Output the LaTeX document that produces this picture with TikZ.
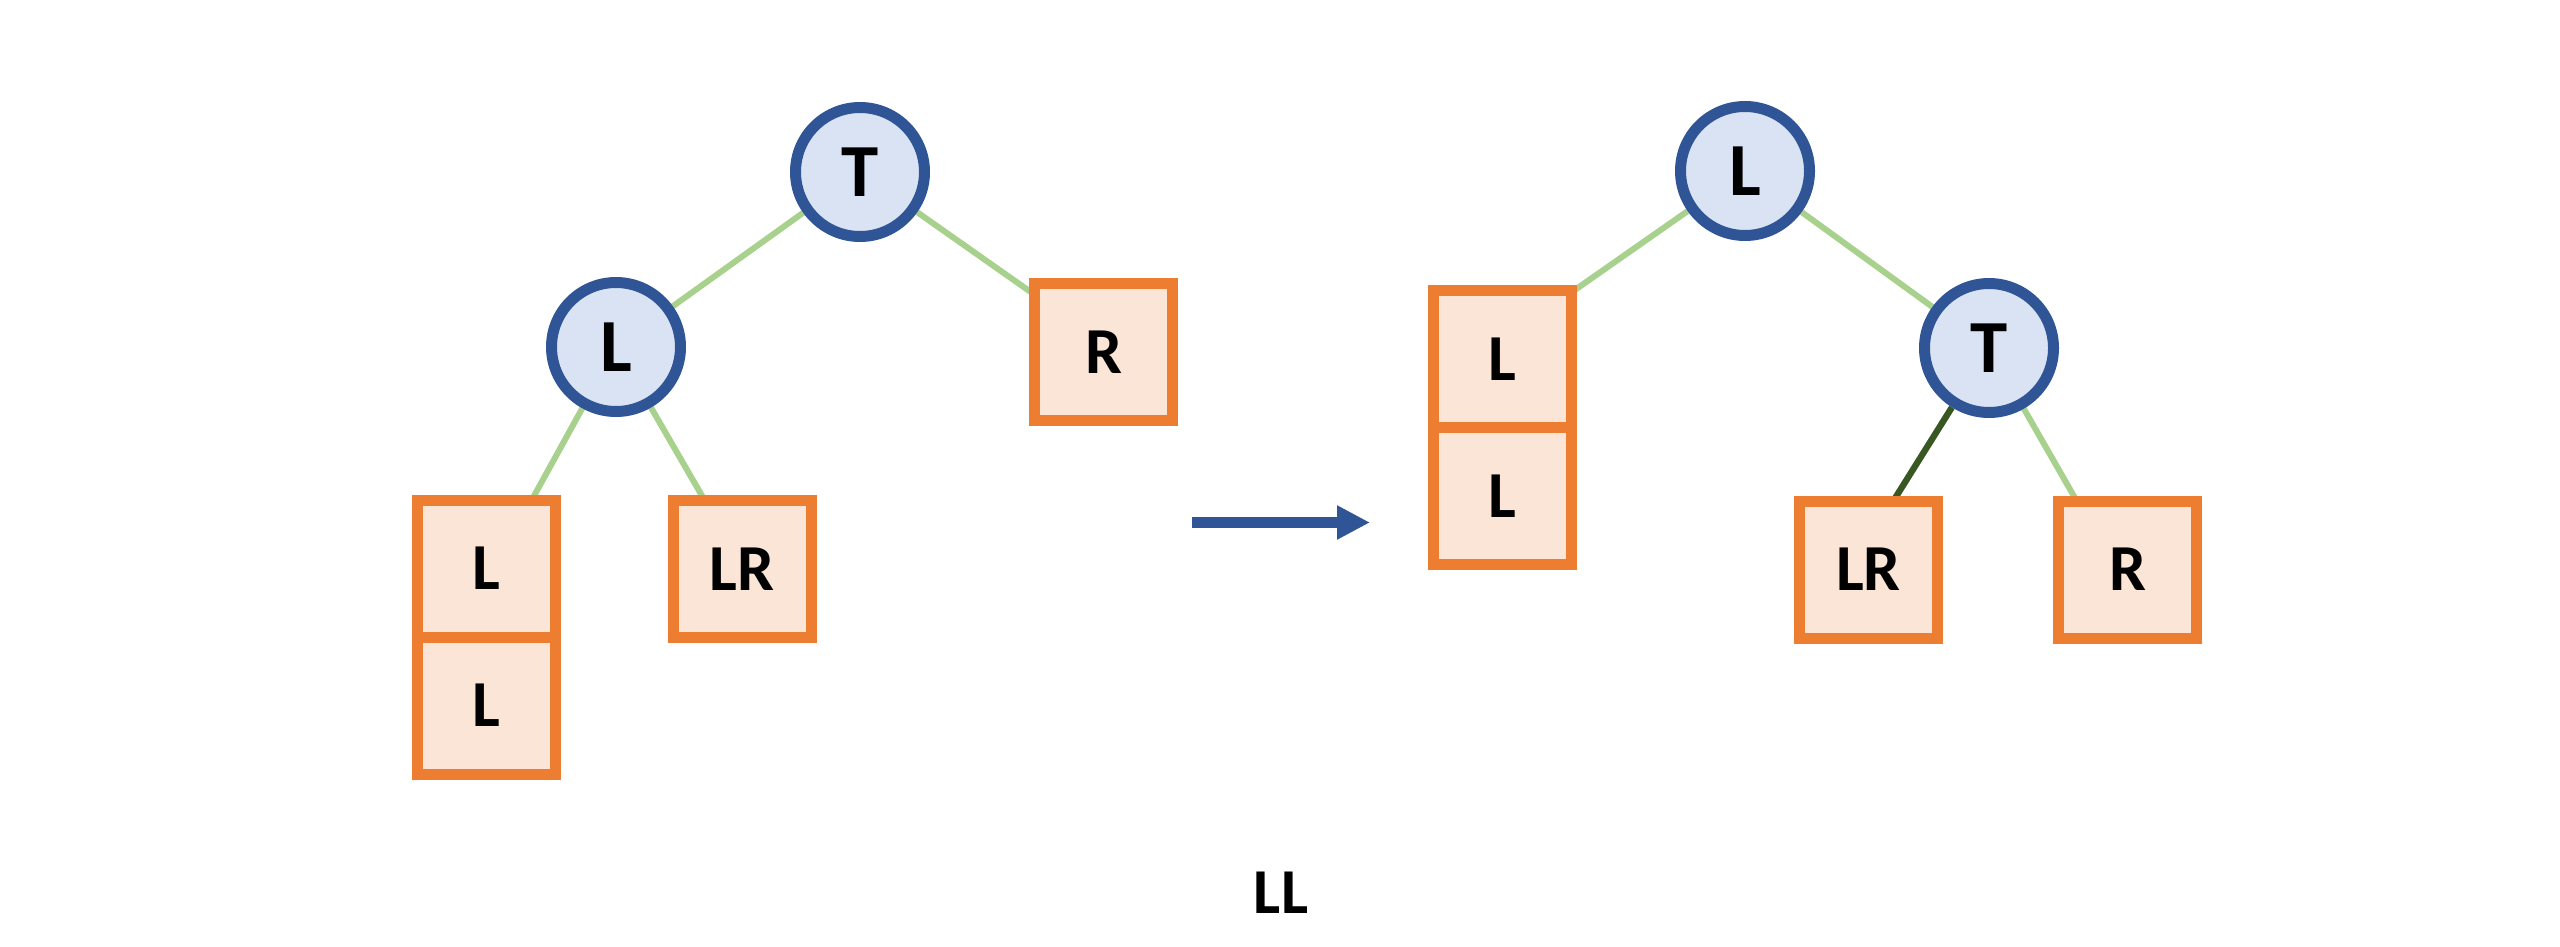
\documentclass[tikz,border=0pt]{standalone}
\usepackage{fontspec}
\setmainfont{Carlito}
\usetikzlibrary{arrows.meta,backgrounds,calc}
\definecolor{cblue}{HTML}{2F5597}
\definecolor{cfill}{HTML}{DAE3F3}
\definecolor{corange}{HTML}{ED7D31}
\definecolor{cbox}{HTML}{FBE5D6}
\definecolor{cgreen}{HTML}{A9D18E}
\definecolor{cdgreen}{HTML}{385723}
\begin{document}
\begin{tikzpicture}[x=0.3pt,y=-0.3pt,
  circ/.style={circle,draw=cblue,fill=cfill,line width=3.3pt,minimum size=38.7pt,inner sep=0pt,
    font=\fontsize{22.5}{27}\selectfont\bfseries},
  box/.style={rectangle,draw=corange,fill=cbox,line width=3.3pt,minimum width=41.4pt,minimum height=41.1pt,inner sep=0pt,
    font=\fontsize{19.7}{24}\selectfont\bfseries},
  edge/.style={draw=cgreen,line width=1.8pt},
  dedge/.style={draw=cdgreen,line width=1.9pt},
  lbl/.style={font=\fontsize{19.2}{23}\selectfont\bfseries,inner sep=0pt}]
\useasboundingbox (0,0) rectangle (2560,947);
% left tree
\node[circ] (T1) at (860,172) {T};
\node[circ] (L1) at (616,347) {L};
\node[box] (S1a) at (486.5,568.5) {L};
\node[box] (S1b) at (486.5,705.5) {L};
\node[box] (LR1) at (742,569) {LR};
\node[box] (R1) at (1103.5,352) {R};
% right tree
\node[circ] (L2) at (1745,171) {L};
\node[circ] (T2) at (1989,348) {T};
\node[box] (S2a) at (1502,359) {L};
\node[box] (S2b) at (1502,496) {L};
\node[box] (LR2) at (1868.5,569.5) {LR};
\node[box] (R2) at (2127.5,569.5) {R};
% arrow
\coordinate (a1) at (1192,522.5);
\coordinate (a2) at (1370,522.5);
\draw[cblue,line width=3.3pt,-{Triangle[length=9.9pt,width=9.6pt]}] (a1) -- (a2);
% label
\node[lbl] (cap) at (1281,893) {LL};
\begin{scope}[on background layer]
  \draw[edge] (T1) -- (L1);
  \draw[edge] (T1) -- ($(R1.north west)+(6,17)$);
  \draw[edge] (L1) -- ($(S1a.north)+(45,6)$);
  \draw[edge] (L1) -- ($(LR1.north)+(-37,6)$);
  \draw[edge] (L2) -- (T2);
  \draw[edge] (L2) -- ($(S2a.north east)+(-6,8)$);
  \draw[dedge] (T2) -- ($(LR2.north)+(24.5,6)$);
  \draw[edge] (T2) -- ($(R2.north)+(-50.5,6)$);
\end{scope}
\end{tikzpicture}
\end{document}
